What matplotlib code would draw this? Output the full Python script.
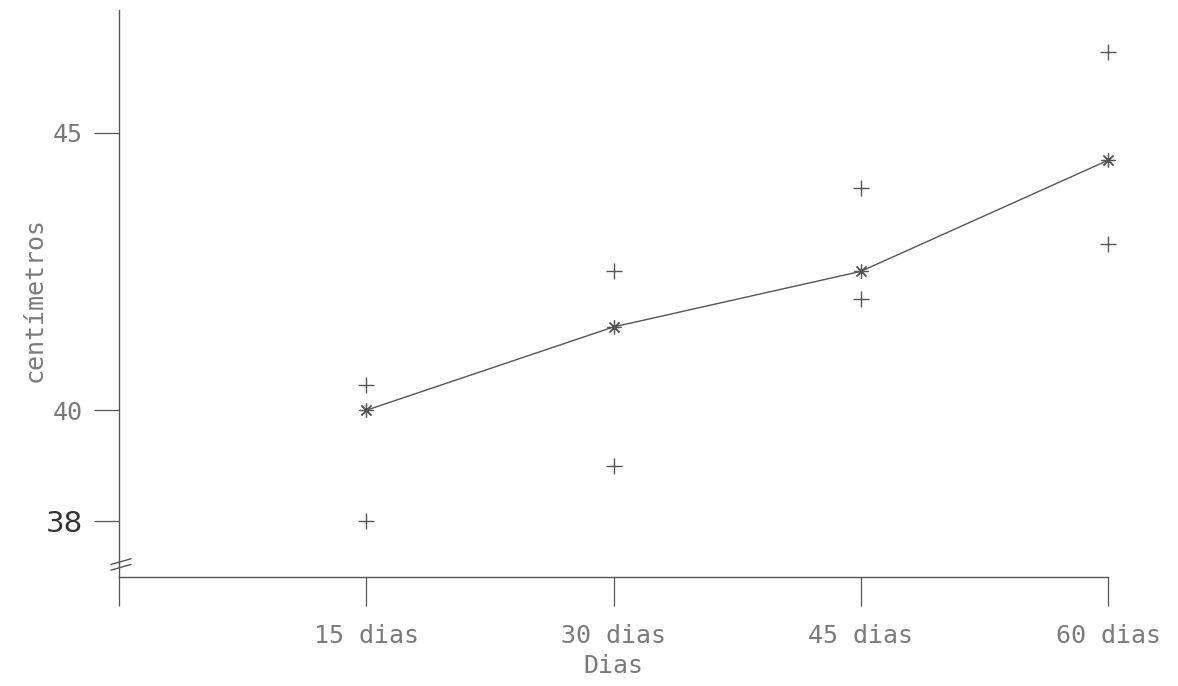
"""Growth in centimetres over days: individual readings and mean line."""

import matplotlib
matplotlib.use("Agg")
import matplotlib.pyplot as plt


DAYS = [15, 30, 45, 60]
DAY_LABELS = ["15 dias", "30 dias", "45 dias", "60 dias"]
UPPER = [40.45, 42.5, 44.0, 46.45]
MEAN = [40.0, 41.5, 42.5, 44.5]
LOWER = [38.0, 39.0, 42.0, 43.0]
Y_TICKS = [38, 40, 45]

TEXT_COLOR = "#7a7a7a"
INK = "#555555"
MONO = "DejaVu Sans Mono"


def main():
    fig = plt.figure(figsize=(11.78, 6.86), dpi=100)
    ax = fig.add_axes([0.101, 0.159, 0.8396, 0.826])

    ax.plot(DAYS, MEAN, color=INK, linewidth=1.0, zorder=2, clip_on=False)
    ax.plot(DAYS, MEAN, linestyle="none", marker=(8, 2, 0), markersize=10,
            markeredgewidth=0.9, color=INK, zorder=3, clip_on=False)
    ax.plot(DAYS, UPPER, linestyle="none", marker="+", markersize=11,
            markeredgewidth=1.0, color=INK, zorder=3, clip_on=False)
    ax.plot(DAYS, LOWER, linestyle="none", marker="+", markersize=11,
            markeredgewidth=1.0, color=INK, zorder=3, clip_on=False)

    ax.set_xlim(0, 60)
    ax.set_ylim(37.0, 47.2)

    for side in ("top", "right"):
        ax.spines[side].set_visible(False)
    for side in ("left", "bottom"):
        ax.spines[side].set_color(INK)
        ax.spines[side].set_linewidth(1.0)

    ax.set_xticks([0] + DAYS)
    ax.set_xticklabels([""] + DAY_LABELS, fontfamily=MONO, fontsize=18,
                       color=TEXT_COLOR)
    ax.tick_params(axis="x", direction="out", length=21, width=0.9,
                   color=INK, pad=13)

    ax.set_yticks(Y_TICKS)
    ax.set_yticklabels([str(v) for v in Y_TICKS], fontfamily=MONO,
                       fontsize=18, color=TEXT_COLOR)
    ax.tick_params(axis="y", direction="out", length=18, width=0.9,
                   color=INK, pad=8)
    # the 38 label was handwritten on the original
    lbl38 = ax.get_yticklabels()[0]
    lbl38.set_fontfamily("DejaVu Sans")
    lbl38.set_fontsize(21)
    lbl38.set_color("#333333")

    ax.set_xlabel("Dias", fontfamily=MONO, fontsize=18, color=TEXT_COLOR,
                  labelpad=4)
    ax.set_ylabel("centímetros", fontfamily=MONO, fontsize=18,
                  color=TEXT_COLOR)
    ax.yaxis.set_label_coords(-0.073, 0.49)

    # axis break mark near the origin
    for dy in (0.007, -0.003):
        ax.plot([-0.008, 0.012], [0.02 + dy - 0.005, 0.02 + dy + 0.005],
                transform=ax.transAxes, color=INK, linewidth=1.0,
                clip_on=False)

    fig.savefig("out.png", dpi=100)
    plt.close(fig)


if __name__ == "__main__":
    main()
